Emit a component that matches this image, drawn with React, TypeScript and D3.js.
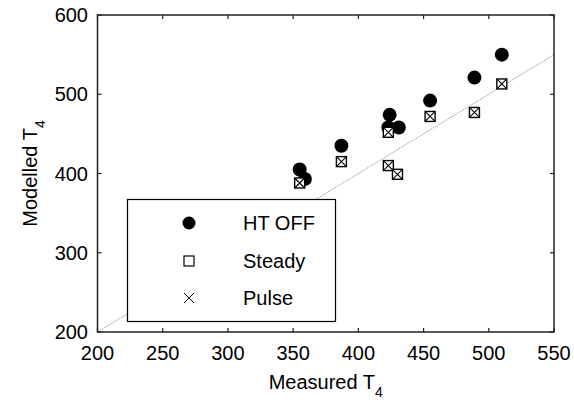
import React from "react";
import * as d3 from "d3";

const xTicks = [200, 250, 300, 350, 400, 450, 500, 550];
const yTicks = [200, 300, 400, 500, 600];

const htOffX = [355, 359, 387, 424, 423, 431, 455, 489, 510];
const htOffY = [405, 393, 435, 474, 458, 458, 492, 521, 550];

const steadyX = [355, 387, 423, 423, 430, 455, 489, 510];
const steadyY = [388, 415, 452, 410, 399, 472, 477, 513];

const pulseX = [355, 387, 423, 423, 430, 455, 489, 510];
const pulseY = [388, 415, 452, 410, 399, 472, 477, 513];

const legendLabels = ["HT OFF", "Steady", "Pulse"];
const diagonal = [200, 550];

const W = 574;
const H = 403;
const FONT = "'Liberation Sans', Arial, sans-serif";

export default function App() {
  const x = d3.scaleLinear().domain([200, 550]).range([97.5, 554]);
  const y = d3.scaleLinear().domain([200, 600]).range([332, 15]);
  const [x0, x1] = x.range();
  const [y0, y1] = y.range();
  const line = d3
    .line<number>()
    .x((d) => x(d))
    .y((d) => y(d));
  const sq = 10;
  const xa = 4.5;

  const legendRowsY = [223, 261, 298];
  const lmx = 189;

  return (
    <svg
      width={W}
      height={H}
      style={{ position: "absolute", left: 0, top: 0, background: "#fff" }}
      fontFamily={FONT}
    >
      <rect x={0} y={0} width={W} height={H} fill="#fff" />
      <clipPath id="plotclip">
        <rect x={x0} y={y1} width={x1 - x0} height={y0 - y1} />
      </clipPath>
      {/* diagonal */}
      <path
        d={line(diagonal) || ""}
        stroke="#999"
        strokeWidth={1}
        strokeDasharray="1.5,1"
        fill="none"
        clipPath="url(#plotclip)"
      />
      {/* data: HT OFF */}
      {htOffX.map((v, i) => (
        <circle key={"c" + i} cx={x(v)} cy={y(htOffY[i])} r={7} fill="#000" />
      ))}
      {/* Steady */}
      {steadyX.map((v, i) => (
        <rect
          key={"s" + i}
          x={x(v) - sq / 2}
          y={y(steadyY[i]) - sq / 2}
          width={sq}
          height={sq}
          fill="#fff"
          stroke="#000"
          strokeWidth={1.4}
        />
      ))}
      {/* Pulse */}
      {pulseX.map((v, i) => {
        const cx = x(v);
        const cy = y(pulseY[i]);
        return (
          <path
            key={"p" + i}
            d={`M${cx - xa},${cy - xa}L${cx + xa},${cy + xa}M${cx - xa},${cy + xa}L${cx + xa},${cy - xa}`}
            stroke="#000"
            strokeWidth={1.1}
          />
        );
      })}
      {/* legend */}
      <rect x={127.5} y={199.5} width={208} height={122} fill="#fff" stroke="#000" strokeWidth={1.2} />
      <circle cx={lmx} cy={legendRowsY[0]} r={6.5} fill="#000" />
      <rect x={lmx - 5} y={legendRowsY[1] - 5} width={10} height={10} fill="#fff" stroke="#000" strokeWidth={1.2} />
      <path
        d={`M${lmx - 5},${legendRowsY[2] - 5}L${lmx + 5},${legendRowsY[2] + 5}M${lmx - 5},${legendRowsY[2] + 5}L${lmx + 5},${legendRowsY[2] - 5}`}
        stroke="#000"
        strokeWidth={1}
      />
      {legendLabels.map((t, i) => (
        <text key={t} x={243} y={legendRowsY[i]} dy="0.36em" fontSize={20} fill="#000">
          {t}
        </text>
      ))}
      {/* axes box */}
      <rect x={x0} y={y1} width={x1 - x0} height={y0 - y1} fill="none" stroke="#222" strokeWidth={1.5} />
      {xTicks.map((t) => (
        <g key={"xt" + t}>
          <line x1={x(t)} x2={x(t)} y1={y0} y2={y0 - 4} stroke="#222" strokeWidth={1.2} />
          <line x1={x(t)} x2={x(t)} y1={y1} y2={y1 + 4} stroke="#222" strokeWidth={1.2} />
          <text x={x(t)} y={360} textAnchor="middle" fontSize={20} fill="#000">
            {t}
          </text>
        </g>
      ))}
      {yTicks.map((t) => (
        <g key={"yt" + t}>
          <line x1={x0} x2={x0 + 4} y1={y(t)} y2={y(t)} stroke="#222" strokeWidth={1.2} />
          <line x1={x1} x2={x1 - 4} y1={y(t)} y2={y(t)} stroke="#222" strokeWidth={1.2} />
          <text x={88} y={y(t)} dy="0.36em" textAnchor="end" fontSize={20} fill="#000">
            {t}
          </text>
        </g>
      ))}
      {/* axis labels */}
      <text x={(x0 + x1) / 2} y={389} textAnchor="middle" fontSize={20} fill="#000">
        Measured T
        <tspan fontSize={14} dy={8}>4</tspan>
      </text>
      <text
        transform={`translate(37,${(y0 + y1) / 2}) rotate(-90)`}
        textAnchor="middle"
        fontSize={20}
        fill="#000"
      >
        Modelled T
        <tspan fontSize={14} dy={8}>4</tspan>
      </text>
    </svg>
  );
}
